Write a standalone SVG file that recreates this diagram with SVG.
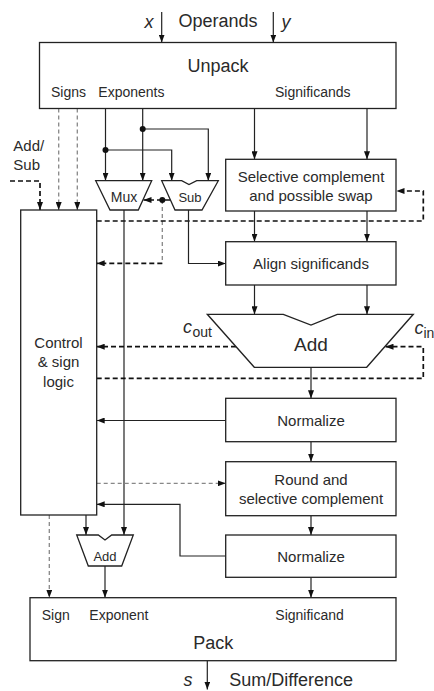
<svg xmlns="http://www.w3.org/2000/svg" width="434" height="691" viewBox="0 0 434 691">
<style>
text{font-family:"Liberation Sans",Arial,sans-serif;fill:#2a2a2a}
.t18{font-size:18px}.t15{font-size:15px}.t14{font-size:14px}.t13{font-size:13px}
.m{text-anchor:middle}.i{font-style:italic}
.box{fill:#fff;stroke:#222;stroke-width:1.3}
.ln{fill:none;stroke:#222;stroke-width:1.2}
.db{fill:none;stroke:#111;stroke-width:1.7;stroke-dasharray:5,3}
.dg{fill:none;stroke:#888;stroke-width:1.3;stroke-dasharray:4,3}
.dot{fill:#111}
</style>
<defs>
<marker id="a" viewBox="0 0 8 6" refX="8" refY="3" markerWidth="8" markerHeight="6" markerUnits="userSpaceOnUse" orient="auto"><path d="M0,0L8,3L0,6z" fill="#111"/></marker>
</defs>
<rect width="434" height="691" fill="#fff"/>
<g id="connectors">
<path class="ln" d="M161.7,12V42.5" marker-end="url(#a)"/>
<path class="ln" d="M273.3,12V42.5" marker-end="url(#a)"/>
<path class="dg" d="M58.7,108.5V210" marker-end="url(#a)"/>
<path class="dg" d="M77.3,108.5V210" marker-end="url(#a)"/>
<path class="db" d="M10,181H40V210" marker-end="url(#a)"/>
<path class="ln" d="M105.5,108.5V180.7" marker-end="url(#a)"/>
<path class="ln" d="M105.5,150H171.7V180.7" marker-end="url(#a)"/>
<path class="ln" d="M142.7,108.5V180.7" marker-end="url(#a)"/>
<path class="ln" d="M142.7,129H208.3V180.7" marker-end="url(#a)"/>
<path class="ln" d="M254.5,108.5V159.3" marker-end="url(#a)"/>
<path class="ln" d="M367,108.5V159.3" marker-end="url(#a)"/>
<path class="ln" d="M254.5,211V241.7" marker-end="url(#a)"/>
<path class="ln" d="M367,211V241.7" marker-end="url(#a)"/>
<path class="ln" d="M254.5,285V314.3" marker-end="url(#a)"/>
<path class="ln" d="M367,285V314.3" marker-end="url(#a)"/>
<path class="db" d="M170,200H143.5" marker-end="url(#a)"/>
<path class="dg" d="M162.3,200V263.3"/>
<path class="db" d="M162.3,263.3H96.7" marker-end="url(#a)"/>
<path class="db" d="M96.7,221H423.3V191H396.5" marker-end="url(#a)"/>
<path class="ln" d="M124,210V535" marker-end="url(#a)"/>
<path class="ln" d="M188.5,210V263.5H225.7" marker-end="url(#a)"/>
<path class="db" d="M236,346.7H96.7" marker-end="url(#a)"/>
<path class="db" d="M96.7,378.3H423.3V346.7H385.5" marker-end="url(#a)"/>
<path class="ln" d="M311,367.3V398.3" marker-end="url(#a)"/>
<path class="ln" d="M225.7,420.5H96.7" marker-end="url(#a)"/>
<path class="ln" d="M311,441.7V461.7" marker-end="url(#a)"/>
<path class="dg" d="M96.7,483.3H225.7" marker-end="url(#a)"/>
<path class="ln" d="M311,515.7V535" marker-end="url(#a)"/>
<path class="ln" d="M225.7,556H180V504.3H96.7" marker-end="url(#a)"/>
<path class="ln" d="M86,515V535" marker-end="url(#a)"/>
<path class="dg" d="M49.3,515V597.7" marker-end="url(#a)"/>
<path class="ln" d="M105,566V597.7" marker-end="url(#a)"/>
<path class="ln" d="M311,577.3V597.7" marker-end="url(#a)"/>
<path class="ln" d="M207.3,660.7V689.5" marker-end="url(#a)"/>
<circle class="dot" cx="105.5" cy="150" r="3"/>
<circle class="dot" cx="142.7" cy="129" r="3"/>
<circle class="dot" cx="162.3" cy="200" r="3"/>
</g>
<g id="labels-top">
<text class="t18 i m" x="149" y="28">x</text>
<text class="t18 m" x="218" y="27">Operands</text>
<text class="t18 i m" x="286" y="28">y</text>
<text class="t15" x="13.3" y="150.5">Add/</text>
<text class="t15" x="13.3" y="170">Sub</text>
</g>
<g id="unpack">
<rect class="box" x="39.5" y="42.5" width="356.5" height="66"/>
<text class="t18 m" x="218" y="71.5">Unpack</text>
<text class="t14" x="51" y="96.5">Signs</text>
<text class="t14" x="98.3" y="96.5">Exponents</text>
<text class="t14" x="275" y="96.5">Significands</text>
</g>
<g id="mux">
<polygon class="box" points="95.7,180.7 151.7,180.7 138.3,210 110,210"/>
<text class="t14 m" x="124" y="201.5">Mux</text>
</g>
<g id="sub">
<path class="box" d="M161.7,180.7H181.7L189,184.5L196.7,180.7H218.3L202,210H175Z"/>
<text class="t13 m" x="190" y="201.5">Sub</text>
</g>
<g id="control">
<rect class="box" x="20.7" y="210" width="76" height="305"/>
<text class="t15 m" x="58.5" y="348">Control</text>
<text class="t15 m" x="58.5" y="367">&amp; sign</text>
<text class="t15 m" x="58.5" y="386.5">logic</text>
</g>
<g id="selcomp">
<rect class="box" x="225.7" y="159.3" width="170.3" height="51.7"/>
<text class="t15 m" x="311" y="181.5">Selective complement</text>
<text class="t15 m" x="311" y="200.5">and possible swap</text>
</g>
<g id="align">
<rect class="box" x="225.7" y="241.7" width="170.3" height="43.3"/>
<text class="t15 m" x="311" y="269">Align significands</text>
</g>
<g id="adder">
<path class="box" d="M207.3,314.3H283.3L311,325L337.3,314.3H413.3L366.7,367.3H254.3Z"/>
<text class="t18 m" x="311" y="351" style="font-size:19px">Add</text>
<text class="t18 i" x="183" y="333">c</text>
<text class="t14" x="192.5" y="337">out</text>
<text class="t18 i" x="414.5" y="333.5">c</text>
<text class="t14" x="423.5" y="337.5">in</text>
</g>
<g id="normalize1">
<rect class="box" x="225.7" y="398.3" width="170.3" height="43.4"/>
<text class="t15 m" x="311" y="426">Normalize</text>
</g>
<g id="round">
<rect class="box" x="225.7" y="461.7" width="170.3" height="54"/>
<text class="t15 m" x="311" y="485">Round and</text>
<text class="t15 m" x="311" y="504">selective complement</text>
</g>
<g id="normalize2">
<rect class="box" x="225.7" y="535" width="170.3" height="42.3"/>
<text class="t15 m" x="311" y="561.5">Normalize</text>
</g>
<g id="expadd">
<path class="box" d="M76.7,535H98.3L105,540L111.7,535H133.3L121.7,566H88.3Z"/>
<text class="t13 m" x="105" y="561">Add</text>
</g>
<g id="pack">
<rect class="box" x="30" y="597.7" width="366" height="63"/>
<text class="t14" x="41.7" y="619.5">Sign</text>
<text class="t14" x="89.3" y="619.5">Exponent</text>
<text class="t14" x="275.3" y="619.5">Significand</text>
<text class="t18 m" x="213.3" y="649">Pack</text>
</g>
<g id="labels-bottom">
<text class="t18 i m" x="188" y="686">s</text>
<text class="t18" x="229.3" y="686">Sum/Difference</text>
</g>
</svg>
